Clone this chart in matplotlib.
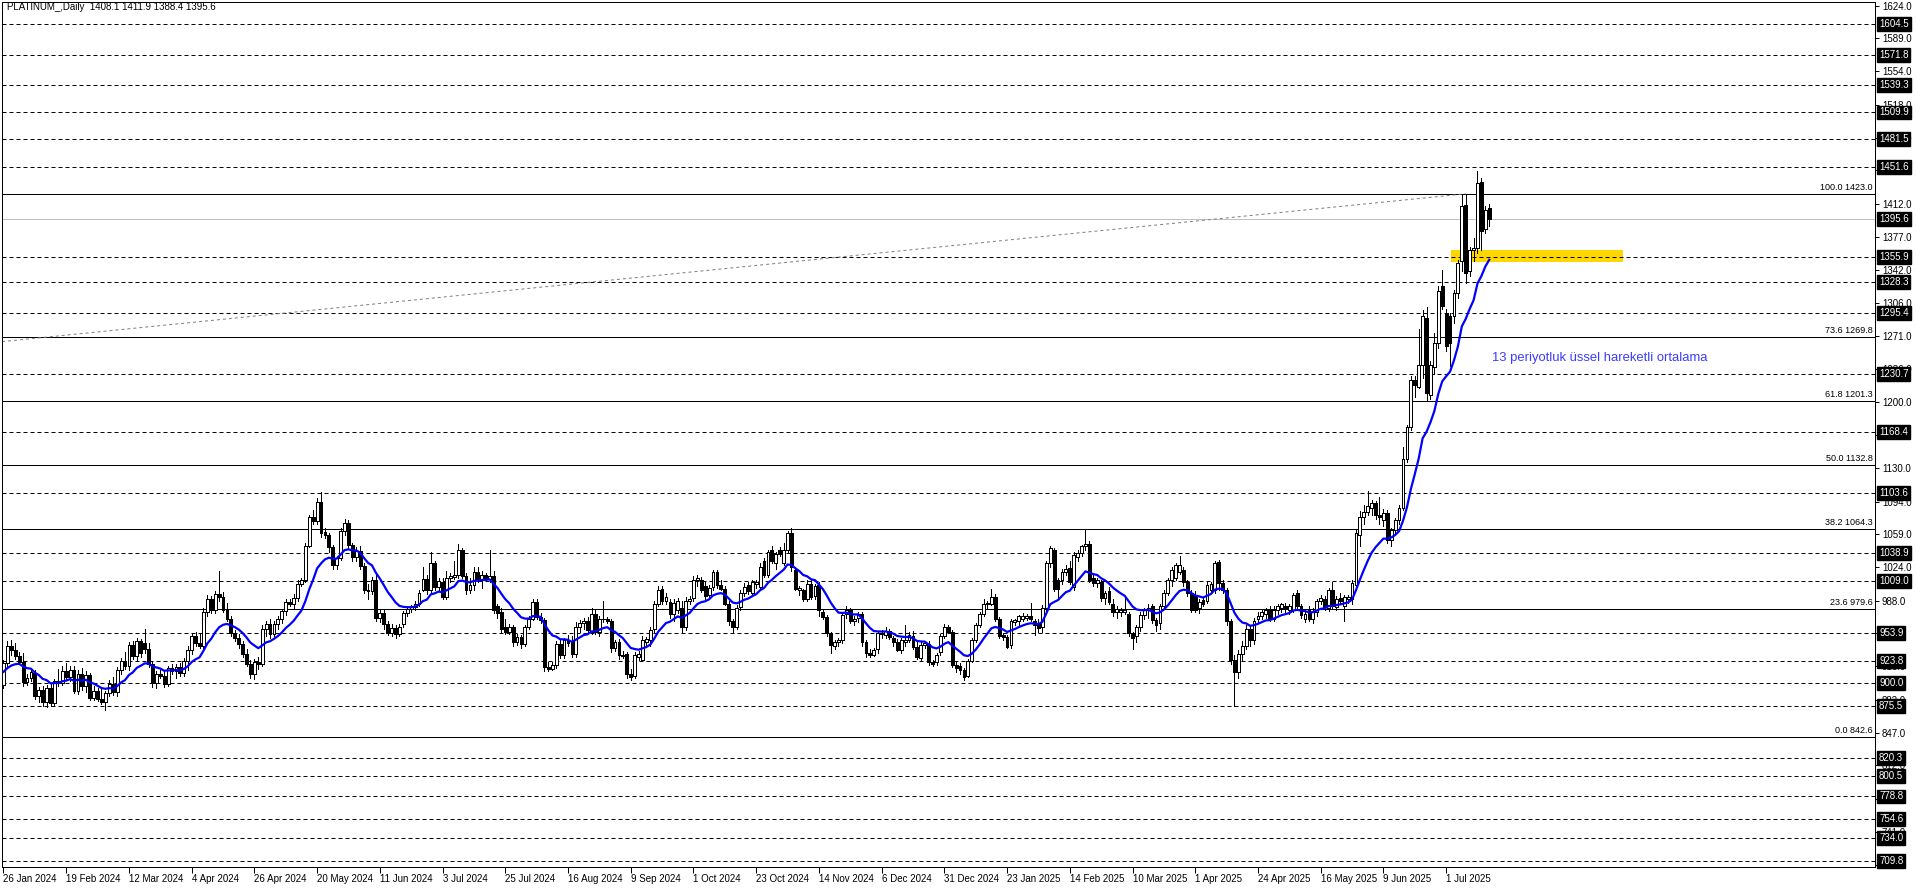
import matplotlib
matplotlib.use('Agg')
import matplotlib.pyplot as plt
import matplotlib.transforms as mtransforms
from matplotlib.patches import Rectangle
import numpy as np

plt.rcParams['font.family'] = ['Liberation Sans', 'DejaVu Sans']

## Daily candles (PLATINUM_, Jan 2024 - Jul 2025)
opens = [
    898, 921, 940, 935, 929, 923, 901, 905, 911, 886,
    893, 880, 895, 879, 902, 900, 913, 907, 914, 892,
    910, 897, 909, 884, 892, 883, 880, 889, 899, 890,
    914, 924, 918, 941, 929, 945, 943, 936, 920, 900,
    910, 908, 899, 916, 913, 917, 911, 924, 935, 950,
    943, 940, 976, 990, 978, 995, 992, 978, 969, 953,
    948, 942, 931, 920, 910, 922, 920, 958, 963, 952,
    963, 968, 977, 987, 984, 991, 1006, 1010, 1047, 1077,
    1073, 1094, 1062, 1058, 1045, 1026, 1034, 1063, 1071, 1048,
    1035, 1041, 1025, 999, 998, 1010, 970, 975, 963, 954,
    959, 952, 963, 975, 979, 981, 985, 1000, 1011, 999,
    1028, 1003, 1008, 992, 1012, 1013, 1016, 1042, 1014, 999,
    1005, 1019, 1010, 1015, 1011, 1014, 982, 976, 960, 955,
    960, 944, 949, 942, 960, 969, 987, 971, 967, 917,
    915, 919, 942, 930, 946, 945, 931, 960, 964, 966,
    955, 974, 955, 968, 969, 966, 937, 944, 930, 931,
    910, 908, 928, 925, 944, 946, 958, 985, 1001, 988,
    987, 974, 978, 980, 960, 988, 991, 1010, 1010, 1004,
    994, 1003, 1019, 1005, 1001, 985, 966, 960, 981, 996,
    1005, 996, 1006, 1003, 1030, 1015, 1042, 1028, 1042, 1028,
    1042, 1060, 1021, 1000, 999, 990, 1006, 993, 1005, 976,
    971, 953, 940, 944, 946, 974, 978, 966, 970, 974,
    944, 932, 930, 936, 952, 951, 956, 948, 944, 935,
    944, 946, 950, 939, 927, 941, 942, 922, 922, 933,
    950, 960, 955, 919, 918, 914, 908, 924, 946, 962,
    974, 984, 985, 992, 969, 951, 949, 941, 965, 966,
    968, 970, 972, 966, 964, 960, 980, 1028, 1042, 1010,
    1010, 1019, 1023, 1003, 1035, 1039, 1046, 1049, 1012, 1007,
    1008, 991, 998, 985, 976, 976, 976, 974, 953, 950,
    960, 973, 978, 982, 967, 964, 982, 996, 1010, 1012,
    1019, 1021, 1008, 996, 994, 980, 989, 988, 1000, 999,
    1029, 1007, 1000, 966, 925, 912, 931, 940, 958, 946,
    968, 972, 974, 978, 969, 978, 980, 982, 978, 978,
    996, 982, 968, 978, 968, 976, 988, 990, 980, 999,
    981, 991, 982, 990, 990, 1005, 1058, 1078, 1083, 1087,
    1092, 1080, 1074, 1082, 1053, 1064, 1074, 1087, 1140, 1174,
    1224, 1217, 1240, 1290, 1208, 1238, 1263, 1324, 1296, 1292,
    1292, 1317, 1351, 1411, 1340, 1363, 1365, 1436, 1385, 1408.1,
]
highs = [
    925, 945, 946, 943, 933, 932, 910, 916, 914, 896,
    897, 898, 900, 904, 915, 918, 921, 918, 918, 914,
    916, 913, 911, 897, 895, 894, 892, 903, 907, 917,
    927, 933, 944, 945, 948, 947, 958, 943, 922, 913,
    914, 913, 918, 920, 920, 921, 927, 940, 953, 955,
    952, 980, 994, 993, 998, 1020, 997, 986, 972, 957,
    952, 945, 936, 925, 926, 928, 962, 966, 968, 966,
    972, 979, 990, 990, 995, 1010, 1012, 1050, 1080, 1085,
    1098, 1104, 1066, 1060, 1048, 1036, 1066, 1075, 1074, 1050,
    1045, 1046, 1028, 1006, 1013, 1018, 978, 979, 966, 963,
    962, 963, 977, 981, 983, 988, 1000, 1024, 1015, 1040,
    1031, 1012, 1012, 1020, 1018, 1030, 1049, 1044, 1018, 1012,
    1024, 1024, 1020, 1018, 1042, 1020, 985, 980, 968, 963,
    962, 952, 951, 962, 972, 990, 990, 975, 970, 922,
    922, 945, 946, 948, 951, 950, 965, 967, 970, 971,
    980, 978, 972, 988, 971, 968, 946, 947, 934, 933,
    915, 933, 934, 950, 949, 960, 988, 1004, 1004, 996,
    990, 990, 991, 988, 992, 993, 1014, 1016, 1013, 1008,
    1005, 1021, 1021, 1010, 1004, 988, 968, 983, 1000, 1007,
    1008, 1010, 1010, 1028, 1034, 1042, 1046, 1040, 1045, 1050,
    1063, 1066, 1024, 1004, 1001, 1010, 1010, 1006, 1008, 978,
    973, 955, 946, 948, 976, 982, 980, 972, 976, 976,
    946, 936, 937, 955, 957, 960, 958, 950, 947, 948,
    962, 955, 956, 944, 945, 945, 945, 925, 932, 952,
    963, 962, 957, 924, 921, 916, 926, 948, 964, 976,
    990, 988, 1001, 995, 971, 953, 951, 968, 968, 973,
    975, 974, 986, 968, 968, 983, 1030, 1046, 1044, 1012,
    1022, 1026, 1030, 1040, 1042, 1048, 1064, 1052, 1016, 1012,
    1010, 998, 1003, 990, 982, 980, 993, 976, 955, 962,
    976, 980, 984, 985, 970, 985, 999, 1012, 1024, 1028,
    1036, 1024, 1010, 999, 998, 990, 992, 1008, 1008, 1031,
    1032, 1010, 1002, 968, 930, 935, 945, 962, 962, 970,
    976, 978, 980, 982, 982, 984, 986, 986, 985, 996,
    1000, 984, 976, 982, 980, 990, 994, 993, 1002, 1008,
    993, 996, 994, 994, 1010, 1064, 1084, 1090, 1105, 1096,
    1095, 1099, 1086, 1085, 1066, 1076, 1090, 1152, 1176, 1228,
    1228, 1278, 1299, 1302, 1244, 1274, 1324, 1342, 1300, 1296,
    1320, 1352, 1422, 1422, 1366, 1376, 1447, 1440, 1410, 1411.9,
]
lows = [
    895, 918, 930, 926, 920, 897, 898, 902, 883, 880,
    876, 874, 876, 876, 897, 898, 904, 902, 889, 888,
    893, 890, 882, 882, 881, 878, 871, 886, 887, 886,
    910, 915, 914, 926, 925, 928, 932, 917, 896, 895,
    905, 896, 897, 910, 905, 908, 908, 914, 931, 940,
    937, 936, 972, 975, 975, 988, 976, 966, 950, 945,
    938, 928, 918, 905, 904, 915, 918, 950, 948, 950,
    958, 964, 973, 982, 980, 988, 1004, 1008, 1045, 1070,
    1070, 1056, 1055, 1040, 1022, 1022, 1032, 1058, 1044, 1030,
    1030, 1022, 996, 990, 995, 966, 965, 958, 951, 950,
    948, 950, 960, 972, 976, 978, 982, 998, 995, 996,
    1000, 1000, 990, 990, 1008, 1011, 1012, 1012, 995, 996,
    1000, 1008, 1002, 1009, 1008, 975, 970, 953, 952, 952,
    940, 941, 938, 940, 958, 967, 968, 964, 913, 913,
    914, 916, 927, 927, 940, 928, 928, 955, 958, 953,
    952, 952, 950, 965, 964, 933, 934, 926, 927, 905,
    903, 905, 925, 924, 941, 940, 955, 982, 985, 985,
    970, 966, 975, 955, 957, 985, 988, 1004, 997, 990,
    990, 1000, 1002, 999, 983, 962, 955, 958, 978, 993,
    995, 993, 1002, 1001, 1013, 1013, 1028, 1022, 1036, 1026,
    1040, 1020, 999, 994, 988, 988, 990, 990, 972, 968,
    950, 932, 936, 940, 943, 970, 964, 962, 965, 940,
    928, 928, 929, 932, 948, 948, 947, 940, 934, 932,
    940, 944, 936, 926, 925, 938, 919, 918, 919, 930,
    948, 953, 917, 912, 910, 903, 906, 922, 944, 960,
    972, 980, 983, 966, 948, 946, 937, 938, 962, 960,
    966, 967, 966, 951, 955, 955, 978, 1024, 998, 991,
    1006, 1016, 1006, 1000, 1030, 1036, 1042, 1008, 1004, 1003,
    988, 985, 984, 972, 970, 972, 974, 950, 936, 944,
    956, 968, 970, 964, 956, 958, 980, 994, 1004, 1010,
    1017, 1004, 993, 976, 976, 975, 982, 986, 996, 996,
    1000, 996, 962, 920, 876, 905, 925, 936, 940, 942,
    965, 968, 970, 966, 966, 974, 976, 975, 974, 976,
    980, 970, 965, 966, 964, 972, 985, 978, 977, 980,
    978, 986, 966, 986, 985, 1000, 1046, 1070, 1080, 1080,
    1075, 1070, 1068, 1050, 1046, 1060, 1070, 1085, 1136, 1170,
    1206, 1215, 1226, 1201, 1204, 1230, 1258, 1300, 1255, 1239,
    1285, 1312, 1340, 1328, 1335, 1351, 1360, 1363, 1381, 1388.4,
]
closes = [
    921, 940, 935, 929, 923, 901, 905, 912, 886, 893,
    880, 895, 879, 902, 900, 913, 907, 914, 892, 910,
    897, 909, 884, 892, 883, 880, 889, 899, 890, 914,
    924, 918, 941, 929, 945, 932, 936, 920, 900, 910,
    908, 899, 916, 913, 917, 911, 924, 935, 950, 943,
    940, 976, 990, 978, 995, 992, 978, 969, 953, 948,
    942, 931, 920, 910, 922, 920, 958, 963, 952, 963,
    968, 977, 987, 984, 991, 1006, 1010, 1047, 1077, 1073,
    1094, 1060, 1058, 1045, 1026, 1034, 1063, 1071, 1048, 1035,
    1041, 1025, 999, 998, 1010, 970, 975, 963, 954, 959,
    952, 960, 975, 979, 981, 985, 996, 1011, 999, 1028,
    1003, 1009, 992, 1012, 1014, 1016, 1042, 1014, 999, 1005,
    1019, 1010, 1015, 1011, 1014, 978, 975, 958, 955, 960,
    944, 949, 942, 960, 969, 987, 971, 967, 917, 915,
    919, 942, 930, 946, 943, 931, 960, 964, 966, 957,
    974, 955, 968, 969, 966, 937, 944, 930, 929, 910,
    907, 930, 931, 946, 947, 957, 985, 999, 988, 992,
    974, 986, 988, 960, 988, 990, 1010, 1012, 999, 993,
    1002, 1019, 1005, 1001, 985, 966, 960, 980, 996, 1003,
    998, 1008, 1008, 1024, 1016, 1040, 1030, 1038, 1038, 1042,
    1060, 1024, 1001, 1002, 990, 1006, 992, 1004, 978, 971,
    953, 941, 944, 946, 973, 978, 966, 969, 974, 944,
    932, 930, 935, 953, 954, 956, 949, 944, 935, 946,
    946, 951, 939, 928, 941, 943, 923, 920, 930, 950,
    960, 955, 919, 916, 914, 907, 924, 946, 962, 974,
    985, 986, 992, 969, 950, 949, 939, 966, 967, 972,
    972, 972, 969, 962, 959, 980, 1028, 1044, 1001, 1001,
    1019, 1022, 1008, 1037, 1039, 1046, 1049, 1010, 1007, 1010,
    991, 996, 987, 976, 979, 978, 978, 953, 948, 960,
    973, 978, 980, 967, 962, 982, 996, 1010, 1021, 1026,
    1026, 1008, 996, 978, 978, 987, 984, 1005, 1006, 1028,
    1007, 1000, 966, 925, 912, 931, 940, 958, 946, 966,
    972, 976, 978, 969, 978, 982, 984, 980, 982, 994,
    982, 973, 974, 968, 976, 988, 991, 981, 999, 982,
    990, 988, 992, 992, 1007, 1060, 1078, 1083, 1089, 1092,
    1080, 1078, 1082, 1053, 1064, 1074, 1087, 1140, 1174, 1224,
    1219, 1240, 1292, 1210, 1240, 1263, 1319, 1303, 1260, 1263,
    1317, 1349, 1410, 1338, 1363, 1365, 1435, 1383, 1406, 1395.6,
]

ema_start = 912  # value of the 13 EMA at the first visible bar
ema_period = 13

date_labels = [
    "26 Jan 2024", "19 Feb 2024", "12 Mar 2024", "4 Apr 2024", "26 Apr 2024",
    "20 May 2024", "11 Jun 2024", "3 Jul 2024", "25 Jul 2024", "16 Aug 2024",
    "9 Sep 2024", "1 Oct 2024", "23 Oct 2024", "14 Nov 2024", "6 Dec 2024",
    "31 Dec 2024", "23 Jan 2025", "14 Feb 2025", "10 Mar 2025", "1 Apr 2025",
    "24 Apr 2025", "16 May 2025", "9 Jun 2025", "1 Jul 2025",
]

axis_ticks = [1624.0, 1589.0, 1554.0, 1518.0, 1483.0, 1448.0, 1412.0, 1377.0,
              1342.0, 1306.0, 1271.0, 1236.0, 1200.0, 1165.0, 1130.0, 1094.0,
              1059.0, 1024.0, 988.0, 953.0, 918.0, 882.0, 847.0, 812.0, 776.0,
              741.0, 706.0]

dashed_levels = [1604.5, 1571.8, 1539.3, 1509.9, 1481.5, 1451.6, 1355.9, 1328.3,
                 1295.4, 1230.7, 1168.4, 1103.6, 1038.9, 1009.0, 953.9, 923.8,
                 900.0, 875.5, 820.3, 800.5, 778.8, 754.6, 734.0, 709.8]

fib_levels = ["100.0", "73.6", "61.8", "50.0", "38.2", "23.6", "0.0"]
fib_prices = [1423.0, 1269.8, 1201.3, 1132.8, 1064.3, 979.6, 842.6]

bid_price = 1395.6
title = "PLATINUM_,Daily  1408.1 1411.9 1388.4 1395.6"
ema_note = "13 periyotluk üssel hareketli ortalama"

## Figure
W, H = 1916, 888
fig = plt.figure(figsize=(W / 100, H / 100), dpi=100)
ax = fig.add_axes([2 / W, 21 / H, 1873 / W, 865 / H])
ax.set_xlim(-0.38, 477.4)
ax.set_ylim(703.4, 1628.0)

o = np.array(opens, dtype=float)
h = np.array(highs, dtype=float)
l = np.array(lows, dtype=float)
c = np.array(closes, dtype=float)
idx = np.arange(len(c))

# 13 EMA
alpha = 2.0 / (ema_period + 1)
ema = [ema_start]
for v in c[1:]:
    ema.append(ema[-1] + alpha * (v - ema[-1]))

LW = 0.72  # 1 px

# Support zone
ax.add_patch(Rectangle((369.3, 1350.1), 43.8, 12.8, facecolor='#FFD700',
                       edgecolor='none', zorder=0.5))

for p in dashed_levels:
    ax.axhline(p, color='black', lw=LW, linestyle=(0, (4, 3)), zorder=1)
for p in fib_prices:
    ax.axhline(p, color='black', lw=LW, zorder=1)
ax.axhline(bid_price, color='#C0C0C0', lw=LW, zorder=1)

# fibo trend line
ax.plot([-0.38, 373], [1265.0, 1423.0], color='#808080', lw=LW,
        linestyle=(0, (3, 3)), zorder=1.2)

# Candles
up = c >= o
ax.vlines(idx, l, h, color='black', lw=LW, zorder=3, antialiased=False)
ax.bar(idx, np.abs(c - o), bottom=np.minimum(o, c), width=0.72,
       color=np.where(up, 'white', 'black'), edgecolor='black',
       linewidth=LW, zorder=4, antialiased=False)

ax.plot(idx, ema, color='#0000FF', lw=1.6, zorder=5)

# Axis styling
for s in ax.spines.values():
    s.set_color('black')
    s.set_linewidth(LW)
ax.yaxis.tick_right()
ax.set_yticks(axis_ticks)
ax.set_yticklabels([f"{v:.1f}" for v in axis_ticks])
ax.tick_params(axis='y', length=3, width=LW, pad=2, labelsize=7,
               colors='black')
ax.set_xticks(np.arange(len(date_labels)) * 16)
ax.set_xticklabels(date_labels)
ax.tick_params(axis='x', length=4, width=LW, pad=1, labelsize=7)
for t in ax.get_xticklabels():
    t.set_horizontalalignment('left')

blend = mtransforms.blended_transform_factory(ax.transAxes, ax.transData)

# price boxes on the right
for p in dashed_levels + [bid_price]:
    ax.annotate(f"{p:.1f}", xy=(1, p), xycoords=blend, xytext=(4, 0),
                textcoords='offset pixels', ha='left', va='center',
                color='white', fontsize=7, annotation_clip=False,
                bbox=dict(boxstyle='square,pad=0.2', fc='black', ec='black'),
                zorder=10)

# fibo labels
for lv, p in zip(fib_levels, fib_prices):
    ax.annotate(f"{lv} {p:.1f}", xy=(1, p), xycoords=blend, xytext=(-2, 2),
                textcoords='offset pixels', ha='right', va='bottom',
                fontsize=6.5, color='black')

ax.text(379.7, 1247.5, ema_note, color='#3C3CFF', fontsize=9.4,
        ha='left', va='center')

fig.text(7 / W, 1 - 7 / H, title, ha='left', va='center', fontsize=7)

fig.savefig('out.png', dpi=100, facecolor='white')
